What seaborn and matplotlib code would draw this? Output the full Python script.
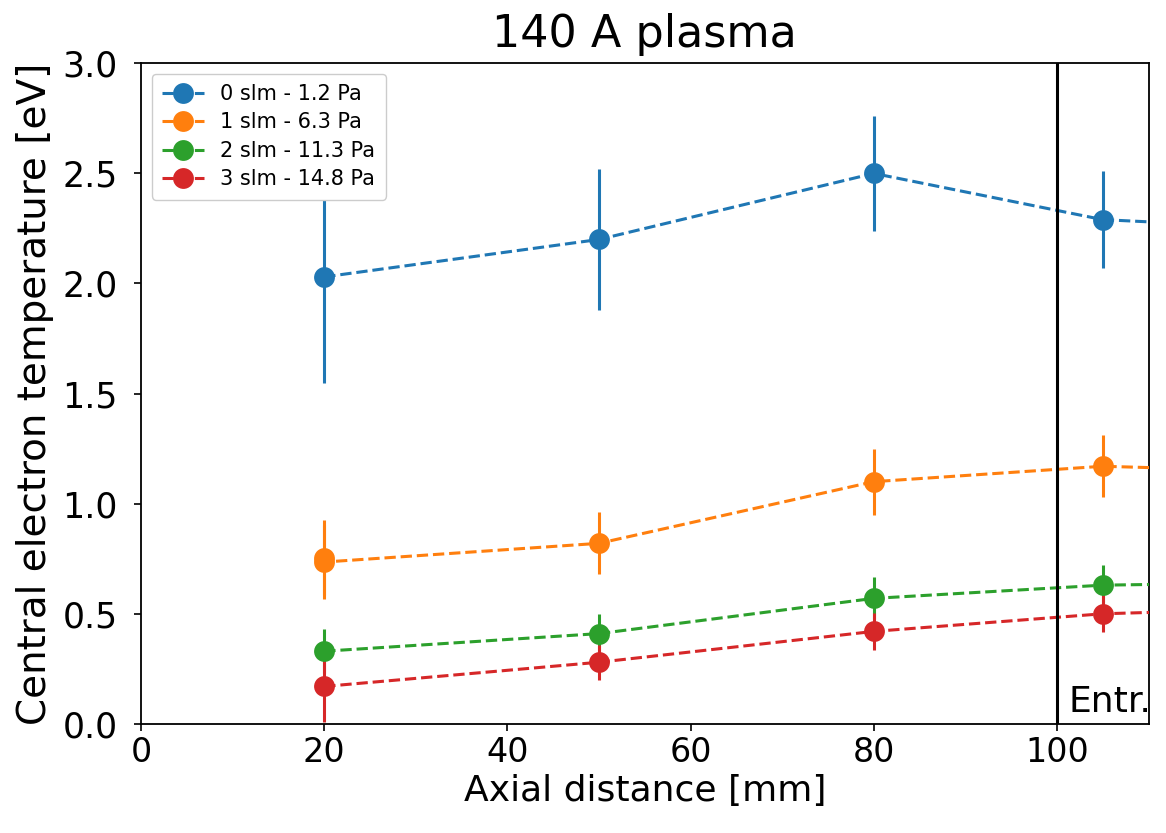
import matplotlib
matplotlib.use("Agg")
import matplotlib.pyplot as plt
import seaborn as sns
import pandas as pd

labels = ["0 slm - 1.2 Pa", "1 slm - 6.3 Pa", "2 slm - 11.3 Pa", "3 slm - 14.8 Pa"]
colors = ["#1f77b4", "#ff7f0e", "#2ca02c", "#d62728"]

x_blue = [20, 50, 80, 105, 130]
y_blue = [2.03, 2.20, 2.50, 2.29, 2.24]
e_blue = [0.48, 0.32, 0.26, 0.22, 0.22]

x_orange = [20, 20, 50, 80, 105, 130]
y_orange = [0.755, 0.735, 0.82, 1.10, 1.17, 1.14]
e_orange = [0.17, 0.17, 0.14, 0.15, 0.14, 0.14]

x_green = [20, 50, 80, 105, 130]
y_green = [0.33, 0.41, 0.57, 0.63, 0.645]
e_green = [0.10, 0.09, 0.095, 0.09, 0.09]

x_red = [20, 50, 80, 105, 130]
y_red = [0.17, 0.28, 0.42, 0.50, 0.53]
e_red = [0.16, 0.08, 0.085, 0.085, 0.085]

series = [(x_blue, y_blue, e_blue), (x_orange, y_orange, e_orange),
          (x_green, y_green, e_green), (x_red, y_red, e_red)]

rows = []
for lab, (xs, ys, es) in zip(labels, series):
    for xv, yv, ev in zip(xs, ys, es):
        rows.append({"x": xv, "y": yv, "err": ev, "series": lab})
df = pd.DataFrame(rows)

fig = plt.figure(figsize=(11.66, 8.33), dpi=100)
ax = fig.add_axes([0.121, 0.131, 0.864, 0.793])

for lab, col, (xs, ys, es) in zip(labels, colors, series):
    ax.errorbar(xs, ys, yerr=es, fmt="none", ecolor=col, elinewidth=2.2, zorder=2)

sns.lineplot(data=df, x="x", y="y", hue="series", hue_order=labels,
             palette=colors, estimator=None, sort=False, marker="o",
             markersize=15, markeredgewidth=0, linestyle="--", linewidth=2.2,
             ax=ax, zorder=3)

ax.axvline(100, color="black", linewidth=2.2, zorder=4)
ax.text(101.3, 0.02, "Entr.", fontsize=26, ha="left", va="bottom")

ax.set_xlim(0, 110)
ax.set_ylim(0, 3.0)
ax.set_xticks([0, 20, 40, 60, 80, 100])
ax.set_yticks([0, 0.5, 1.0, 1.5, 2.0, 2.5, 3.0])
ax.set_yticklabels(["0.0", "0.5", "1.0", "1.5", "2.0", "2.5", "3.0"])
ax.tick_params(axis="x", labelsize=24, length=5, width=1.2)
ax.tick_params(axis="y", labelsize=25, length=5, width=1.2, pad=12)
ax.set_xlabel("Axial distance [mm]", fontsize=26, labelpad=4)
ax.set_ylabel("Central electron temperature [eV]", fontsize=28, labelpad=6)
ax.set_title("140 A plasma", fontsize=32, pad=12)
for s in ax.spines.values():
    s.set_linewidth(1.3)

ax.legend(loc="upper left", fontsize=15, handlelength=2.0, borderpad=0.5,
          labelspacing=0.4, framealpha=1.0, title=None)

fig.savefig("out.png", dpi=100)
